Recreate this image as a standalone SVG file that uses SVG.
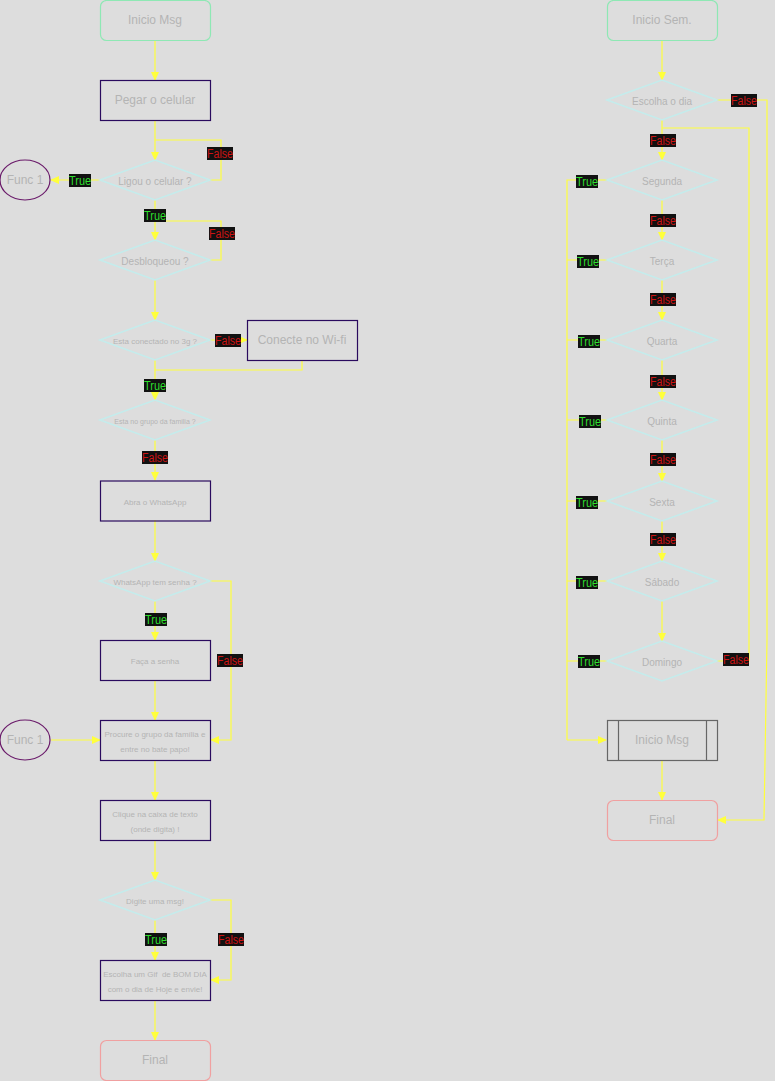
<svg xmlns="http://www.w3.org/2000/svg" width="775" height="1081" viewBox="0 0 775 1081">
<style>
text{font-family:"Liberation Sans",Arial,sans-serif;fill:#b4b4b4;text-anchor:middle;dominant-baseline:central}
.term{fill:none;stroke:#8ee8b4;stroke-width:1.2}
.end{fill:none;stroke:#f0a0a0;stroke-width:1.2}
.proc{fill:none;stroke:#2a0a5e;stroke-width:1.2}
.dec{fill:none;stroke:#c4ecec;stroke-width:1.6}
.func{fill:none;stroke:#6a1a6a;stroke-width:1.2}
.sub{fill:none;stroke:#666;stroke-width:1.2}
.c{fill:none;stroke:#ffff3c;stroke-width:1.2}
.ca{fill:none;stroke:#ffff3c;stroke-width:1.2;marker-end:url(#ah)}
.lb{fill:#111}
.t{fill:#2ede2e;font-size:12px}
.f{fill:#cc1414;font-size:12px}
.s12{font-size:12px}.s10{font-size:10px}.s8{font-size:8px}.s7{font-size:7px}
</style>
<defs>
<marker id="ah" viewBox="0 0 10 10" refX="9" refY="5" markerWidth="9" markerHeight="9" markerUnits="userSpaceOnUse" orient="auto">
<path d="M0,0.5 L10,5 L0,9.5 z" fill="#ffff3c"/>
</marker>
</defs>
<rect width="775" height="1081" fill="#dddddd"/>

<g id="connectors">
<path class="ca" d="M155,40 V80"/>
<path class="ca" d="M155,120 V160"/>
<path class="c" d="M210,180 H221 V140 H155"/>
<path class="ca" d="M100,180 H51"/>
<path class="ca" d="M155,200 V240"/>
<path class="c" d="M210,260 H221 V221 H155"/>
<path class="ca" d="M155,280 V320"/>
<path class="ca" d="M210,340 H247"/>
<path class="c" d="M302,360 V370 H155"/>
<path class="ca" d="M155,360 V400"/>
<path class="ca" d="M155,440 V480"/>
<path class="ca" d="M155,520 V561"/>
<path class="ca" d="M155,601 V640"/>
<path class="ca" d="M210,581 H231 V740 H211"/>
<path class="ca" d="M155,680 V720"/>
<path class="ca" d="M51,740 H100"/>
<path class="ca" d="M155,760 V800"/>
<path class="ca" d="M155,840 V880"/>
<path class="ca" d="M155,920 V960"/>
<path class="ca" d="M210,900 H231 V980 H211"/>
<path class="ca" d="M155,1000 V1040"/>
<path class="ca" d="M662,40 V80"/>
<path class="ca" d="M717,100 H767 V640 L764,820 H718"/>
<path class="ca" d="M662,120 V160"/>
<path class="c" d="M717,661 H749 V128 H662"/>
<path class="ca" d="M662,200 V240"/>
<path class="ca" d="M662,280 V320"/>
<path class="ca" d="M662,360 V400"/>
<path class="ca" d="M662,440 V481"/>
<path class="ca" d="M662,521 V561"/>
<path class="ca" d="M662,601 V641"/>
<path class="c" d="M607,180 H567 V740"/>
<path class="c" d="M607,260 H567"/>
<path class="c" d="M607,340 H567"/>
<path class="c" d="M607,420 H567"/>
<path class="c" d="M607,501 H567"/>
<path class="c" d="M607,581 H567"/>
<path class="c" d="M607,661 H567"/>
<path class="ca" d="M567,740 H606"/>
<path class="ca" d="M662,760 V800"/>

<rect class="lb" x="207" y="147" width="26" height="13"/><text class="f" x="220" y="153.5" textLength="26" lengthAdjust="spacingAndGlyphs">False</text>
<rect class="lb" x="69" y="174" width="22" height="13"/><text class="t" x="80" y="180.5" textLength="22" lengthAdjust="spacingAndGlyphs">True</text>
<rect class="lb" x="144" y="209" width="22" height="13"/><text class="t" x="155" y="215.5" textLength="22" lengthAdjust="spacingAndGlyphs">True</text>
<rect class="lb" x="209" y="227" width="26" height="13"/><text class="f" x="222" y="233.5" textLength="26" lengthAdjust="spacingAndGlyphs">False</text>
<rect class="lb" x="215" y="334" width="26" height="13"/><text class="f" x="228" y="340.5" textLength="26" lengthAdjust="spacingAndGlyphs">False</text>
<rect class="lb" x="144" y="379" width="22" height="13"/><text class="t" x="155" y="385.5" textLength="22" lengthAdjust="spacingAndGlyphs">True</text>
<rect class="lb" x="142" y="451" width="26" height="13"/><text class="f" x="155" y="457.5" textLength="26" lengthAdjust="spacingAndGlyphs">False</text>
<rect class="lb" x="145" y="613" width="22" height="13"/><text class="t" x="156" y="619.5" textLength="22" lengthAdjust="spacingAndGlyphs">True</text>
<rect class="lb" x="217" y="654" width="26" height="13"/><text class="f" x="230" y="660.5" textLength="26" lengthAdjust="spacingAndGlyphs">False</text>
<rect class="lb" x="145" y="933" width="22" height="13"/><text class="t" x="156" y="939.5" textLength="22" lengthAdjust="spacingAndGlyphs">True</text>
<rect class="lb" x="218" y="933" width="26" height="13"/><text class="f" x="231" y="939.5" textLength="26" lengthAdjust="spacingAndGlyphs">False</text>
<rect class="lb" x="731" y="94" width="26" height="13"/><text class="f" x="744" y="100.5" textLength="26" lengthAdjust="spacingAndGlyphs">False</text>
<rect class="lb" x="650" y="134" width="26" height="13"/><text class="f" x="663" y="140.5" textLength="26" lengthAdjust="spacingAndGlyphs">False</text>
<rect class="lb" x="576" y="175" width="22" height="13"/><text class="t" x="587" y="181.5" textLength="22" lengthAdjust="spacingAndGlyphs">True</text>
<rect class="lb" x="650" y="214" width="26" height="13"/><text class="f" x="663" y="220.5" textLength="26" lengthAdjust="spacingAndGlyphs">False</text>
<rect class="lb" x="577" y="255" width="22" height="13"/><text class="t" x="588" y="261.5" textLength="22" lengthAdjust="spacingAndGlyphs">True</text>
<rect class="lb" x="650" y="293" width="26" height="13"/><text class="f" x="663" y="299.5" textLength="26" lengthAdjust="spacingAndGlyphs">False</text>
<rect class="lb" x="578" y="335" width="22" height="13"/><text class="t" x="589" y="341.5" textLength="22" lengthAdjust="spacingAndGlyphs">True</text>
<rect class="lb" x="650" y="375" width="26" height="13"/><text class="f" x="663" y="381.5" textLength="26" lengthAdjust="spacingAndGlyphs">False</text>
<rect class="lb" x="579" y="415" width="22" height="13"/><text class="t" x="590" y="421.5" textLength="22" lengthAdjust="spacingAndGlyphs">True</text>
<rect class="lb" x="650" y="453" width="26" height="13"/><text class="f" x="663" y="459.5" textLength="26" lengthAdjust="spacingAndGlyphs">False</text>
<rect class="lb" x="576" y="496" width="22" height="13"/><text class="t" x="587" y="502.5" textLength="22" lengthAdjust="spacingAndGlyphs">True</text>
<rect class="lb" x="650" y="533" width="26" height="13"/><text class="f" x="663" y="539.5" textLength="26" lengthAdjust="spacingAndGlyphs">False</text>
<rect class="lb" x="576" y="576" width="22" height="13"/><text class="t" x="587" y="582.5" textLength="22" lengthAdjust="spacingAndGlyphs">True</text>
<rect class="lb" x="578" y="655" width="22" height="13"/><text class="t" x="589" y="661.5" textLength="22" lengthAdjust="spacingAndGlyphs">True</text>
<rect class="lb" x="723" y="653" width="26" height="13"/><text class="f" x="736" y="659.5" textLength="26" lengthAdjust="spacingAndGlyphs">False</text>
</g>

<g id="inicio-msg"><rect class="term" x="100.5" y="0.5" width="110" height="40" rx="6"/><text class="s12" x="155" y="20">Inicio Msg</text></g>
<g id="pegar"><rect class="proc" x="100.5" y="80.5" width="110" height="40"/><text class="s12" x="155" y="100">Pegar o celular</text></g>
<g id="ligou"><polygon class="dec" points="100,180 155,160 210,180 155,200"/><text class="s10" x="155" y="181">Ligou o celular ?</text></g>
<g id="func1a"><ellipse class="func" cx="25" cy="180" rx="25" ry="20"/><text class="s12" x="25" y="180">Func 1</text></g>
<g id="desbloqueou"><polygon class="dec" points="100,260 155,240 210,260 155,280"/><text class="s10" x="155" y="261">Desbloqueou ?</text></g>
<g id="conectado"><polygon class="dec" points="100,340 155,320 210,340 155,360"/><text class="s8" x="155" y="341">Esta conectado no 3g ?</text></g>
<g id="wifi"><rect class="proc" x="247.5" y="320.5" width="110" height="40"/><text class="s12" x="302" y="340">Conecte no Wi-fi</text></g>
<g id="grupo"><polygon class="dec" points="100,420 155,400 210,420 155,440"/><text class="s7" x="155" y="421">Esta no grupo da familia ?</text></g>
<g id="abra"><rect class="proc" x="100.5" y="481" width="110" height="40"/><text class="s8" x="155" y="502">Abra o WhatsApp</text></g>
<g id="senha"><polygon class="dec" points="100,581 155,561 210,581 155,601"/><text class="s8" x="155" y="582">WhatsApp tem senha ?</text></g>
<g id="faca"><rect class="proc" x="100.5" y="640.5" width="110" height="40"/><text class="s8" x="155" y="661">Faça a senha</text></g>
<g id="procure"><rect class="proc" x="100.5" y="720.5" width="110" height="40"/><text class="s8" x="155" y="734">Procure o grupo da família e</text><text class="s8" x="155" y="749">entre no bate papo!</text></g>
<g id="func1b"><ellipse class="func" cx="25" cy="740" rx="25" ry="20"/><text class="s12" x="25" y="740">Func 1</text></g>
<g id="clique"><rect class="proc" x="100.5" y="800.5" width="110" height="40"/><text class="s8" x="155" y="814">Clique na caixa de texto</text><text class="s8" x="155" y="829">(onde digita) !</text></g>
<g id="digite"><polygon class="dec" points="100,900 155,880 210,900 155,920"/><text class="s8" x="155" y="901">Digite uma msg!</text></g>
<g id="gif"><rect class="proc" x="100.5" y="960.5" width="110" height="40"/><text class="s8" x="155" y="974" xml:space="preserve" style="white-space:pre">Escolha um Gif  de BOM DIA</text><text class="s8" x="155" y="989">com o dia de Hoje e envie!</text></g>
<g id="final-left"><rect class="end" x="100.5" y="1040.5" width="110" height="40" rx="6"/><text class="s12" x="155" y="1060">Final</text></g>

<g id="inicio-sem"><rect class="term" x="607.5" y="0.5" width="110" height="40" rx="6"/><text class="s12" x="662" y="20">Inicio Sem.</text></g>
<g id="escolha"><polygon class="dec" points="607,100 662,80 717,100 662,120"/><text class="s10" x="662" y="101">Escolha o dia</text></g>
<g id="segunda"><polygon class="dec" points="607,180 662,160 717,180 662,200"/><text class="s10" x="662" y="181">Segunda</text></g>
<g id="terca"><polygon class="dec" points="607,260 662,240 717,260 662,280"/><text class="s10" x="662" y="261">Terça</text></g>
<g id="quarta"><polygon class="dec" points="607,340 662,320 717,340 662,360"/><text class="s10" x="662" y="341">Quarta</text></g>
<g id="quinta"><polygon class="dec" points="607,420 662,400 717,420 662,440"/><text class="s10" x="662" y="421">Quinta</text></g>
<g id="sexta"><polygon class="dec" points="607,501 662,481 717,501 662,521"/><text class="s10" x="662" y="502">Sexta</text></g>
<g id="sabado"><polygon class="dec" points="607,581 662,561 717,581 662,601"/><text class="s10" x="662" y="582">Sábado</text></g>
<g id="domingo"><polygon class="dec" points="607,661 662,641 717,661 662,681"/><text class="s10" x="662" y="662">Domingo</text></g>
<g id="inicio-msg-sub"><rect class="sub" x="607.5" y="720.5" width="110" height="40"/><line class="sub" x1="618.5" y1="720.5" x2="618.5" y2="760.5"/><line class="sub" x1="706.5" y1="720.5" x2="706.5" y2="760.5"/><text class="s12" x="662" y="740">Inicio Msg</text></g>
<g id="final-right"><rect class="end" x="607.5" y="800.5" width="110" height="40" rx="6"/><text class="s12" x="662" y="820">Final</text></g>
</svg>
